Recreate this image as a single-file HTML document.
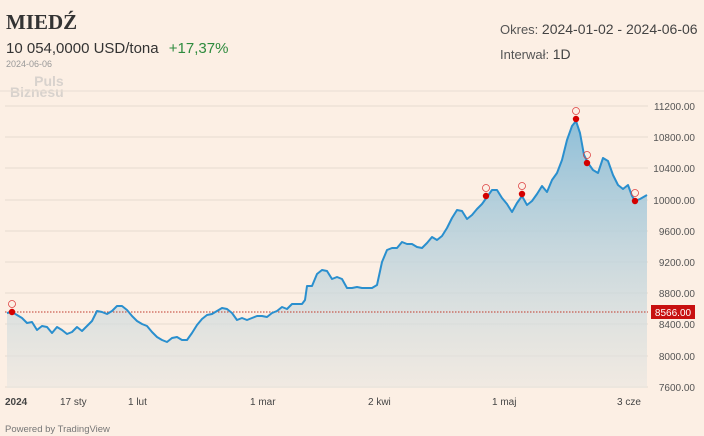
<!DOCTYPE html>
<html><head><meta charset="utf-8"><style>
body{margin:0;width:704px;height:436px;background:#fcefe4;font-family:"Liberation Sans",sans-serif;overflow:hidden;position:relative}
.a{position:absolute;white-space:nowrap}
</style></head><body>
<div class="a" style="left:6px;top:10px;font:bold 21px 'Liberation Serif',serif;color:#333">MIEDŹ</div>
<div class="a" style="left:6px;top:40px;font-size:15px;color:#333">10 054,0000 USD/tona <span style="color:#2e8b3e;margin-left:6px">+17,37%</span></div>
<div class="a" style="left:6px;top:59px;font-size:9px;color:#999">2024-06-06</div>
<div class="a" style="left:10px;top:76px;font:bold 14px 'Liberation Sans';color:#d8d2cd;line-height:11px;text-align:right">Puls<br>Biznesu</div>
<div class="a" style="left:500px;top:21px;font-size:13px;color:#555">Okres: <span style="font-size:14px;color:#444">2024-01-02 - 2024-06-06</span></div>
<div class="a" style="left:500px;top:46px;font-size:13px;color:#555">Interwał: <span style="font-size:14px;color:#444">1D</span></div>
<svg class="a" style="left:0;top:0" width="704" height="436">
<defs><linearGradient id="g" x1="0" y1="0" x2="0" y2="1"><stop offset="0" stop-color="#8fbfd8"/><stop offset="1" stop-color="#e9e6e0" stop-opacity="0.6"/></linearGradient></defs>
<line x1="0" y1="91" x2="704" y2="91" stroke="#e8ddd3"/>
<g stroke="#e6dbd1">
<line x1="5" y1="106" x2="648" y2="106"/><line x1="5" y1="137" x2="648" y2="137"/><line x1="5" y1="168" x2="648" y2="168"/><line x1="5" y1="200" x2="648" y2="200"/><line x1="5" y1="231" x2="648" y2="231"/><line x1="5" y1="262" x2="648" y2="262"/><line x1="5" y1="293" x2="648" y2="293"/><line x1="5" y1="324" x2="648" y2="324"/><line x1="5" y1="356" x2="648" y2="356"/><line x1="5" y1="387" x2="648" y2="387"/>
</g>
<polygon fill="url(#g)" points="7,313 12,312 17,315 22,318 27,323 32,322 37,330 42,326 47,327 52,333 57,327 62,330 67,334 72,332 77,327 82,331 87,326 92,321 97,311 102,312 107,314 112,311 117,306 122,306 127,310 132,316 137,321 142,324 147,326 152,332 157,337 162,340 167,342 172,338 177,337 182,340 187,340 192,333 197,325 202,319 207,315 212,314 217,311 222,308 227,309 232,313 237,320 242,318 247,320 252,318 257,316 262,316 267,317 272,313 277,311 282,307 287,309 292,304 297,304 302,304 305,300 307,286 312,286 317,274 322,270 327,271 332,279 337,277 342,279 347,288 352,288 357,287 362,288 372,288 377,285 382,262 387,250 392,248 397,248 402,242 407,244 412,244 417,247 422,248 427,243 432,237 437,240 442,236 447,228 452,218 457,210 462,211 467,219 472,215 477,209 482,204 487,197 492,190 497,190 502,198 507,204 512,212 517,203 522,196 527,205 532,201 537,194 542,186 547,192 552,180 557,173 562,160 567,140 572,126 576,121 580,133 584,155 588,163 593,170 598,173 603,158 608,161 613,175 618,185 623,189 628,185 632,196 635,201 640,199 647,195 647,388 7,388"/>
<line x1="5" y1="312" x2="648" y2="312" stroke="#c0392b" stroke-dasharray="1.5,1.5" stroke-width="1"/>
<polyline fill="none" stroke="#2a8fce" stroke-width="2" stroke-linejoin="round" points="7,313 12,312 17,315 22,318 27,323 32,322 37,330 42,326 47,327 52,333 57,327 62,330 67,334 72,332 77,327 82,331 87,326 92,321 97,311 102,312 107,314 112,311 117,306 122,306 127,310 132,316 137,321 142,324 147,326 152,332 157,337 162,340 167,342 172,338 177,337 182,340 187,340 192,333 197,325 202,319 207,315 212,314 217,311 222,308 227,309 232,313 237,320 242,318 247,320 252,318 257,316 262,316 267,317 272,313 277,311 282,307 287,309 292,304 297,304 302,304 305,300 307,286 312,286 317,274 322,270 327,271 332,279 337,277 342,279 347,288 352,288 357,287 362,288 372,288 377,285 382,262 387,250 392,248 397,248 402,242 407,244 412,244 417,247 422,248 427,243 432,237 437,240 442,236 447,228 452,218 457,210 462,211 467,219 472,215 477,209 482,204 487,197 492,190 497,190 502,198 507,204 512,212 517,203 522,196 527,205 532,201 537,194 542,186 547,192 552,180 557,173 562,160 567,140 572,126 576,121 580,133 584,155 588,163 593,170 598,173 603,158 608,161 613,175 618,185 623,189 628,185 632,196 635,201 640,199 647,195"/>
<g fill="#d40000">
<circle cx="12" cy="312" r="3.2"/><circle cx="486" cy="196" r="3.2"/><circle cx="522" cy="194" r="3.2"/><circle cx="576" cy="119" r="3.2"/><circle cx="587" cy="163" r="3.2"/><circle cx="635" cy="201" r="3.2"/>
</g>
<g fill="none" stroke="#d44" stroke-width="0.8">
<circle cx="12" cy="304" r="3.5"/><circle cx="486" cy="188" r="3.5"/><circle cx="522" cy="186" r="3.5"/><circle cx="576" cy="111" r="3.5"/><circle cx="587" cy="155" r="3.5"/><circle cx="635" cy="193" r="3.5"/>
</g>
<rect x="651" y="305" width="44" height="14" fill="#c81010"/>
<text x="673" y="316" fill="#fff" font-size="10" text-anchor="middle" font-family="Liberation Sans">8566.00</text>
<g font-size="10" fill="#555" font-family="Liberation Sans" text-anchor="end">
<text x="695" y="110">11200.00</text><text x="695" y="141">10800.00</text><text x="695" y="172">10400.00</text><text x="695" y="204">10000.00</text><text x="695" y="235">9600.00</text><text x="695" y="266">9200.00</text><text x="695" y="297">8800.00</text><text x="695" y="328">8400.00</text><text x="695" y="360">8000.00</text><text x="695" y="391">7600.00</text>
</g>
<g font-size="10" fill="#444" font-family="Liberation Sans">
<text x="5" y="405" font-weight="bold">2024</text><text x="60" y="405">17 sty</text><text x="128" y="405">1 lut</text><text x="250" y="405">1 mar</text><text x="368" y="405">2 kwi</text><text x="492" y="405">1 maj</text><text x="617" y="405">3 cze</text>
</g>
<text x="5" y="432" font-size="9.5" fill="#777" font-family="Liberation Sans">Powered by TradingView</text>
</svg>
</body></html>
